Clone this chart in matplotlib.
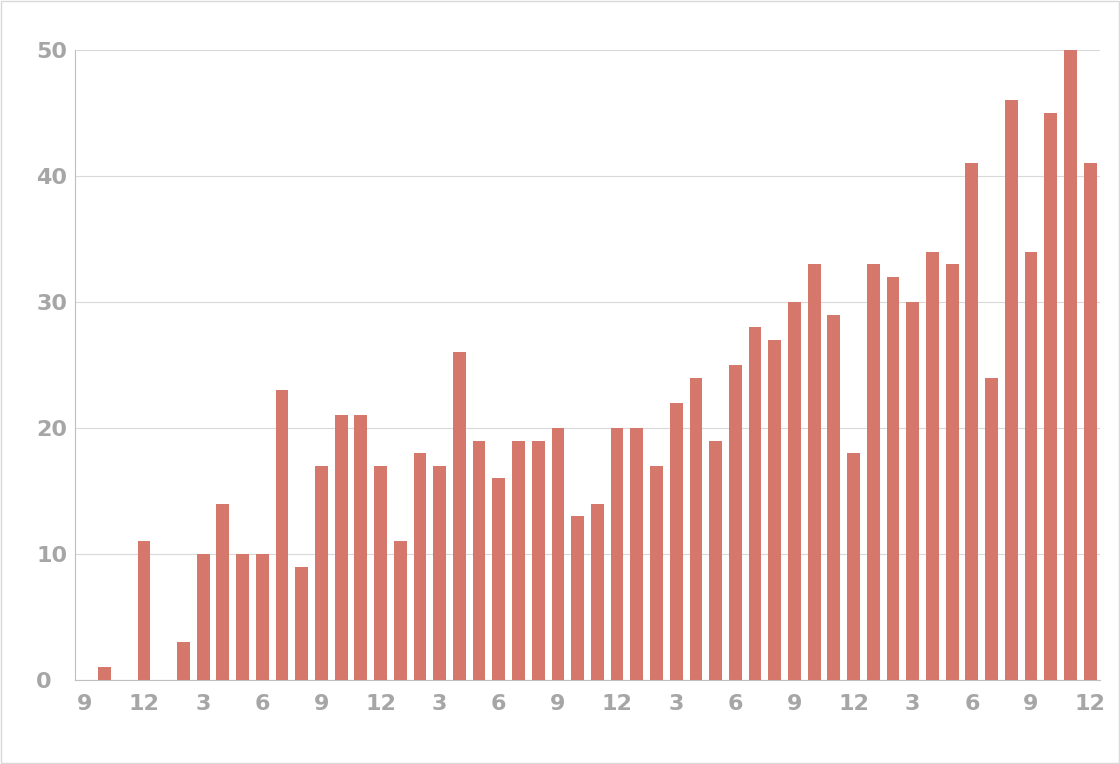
import matplotlib
matplotlib.use("Agg")
import matplotlib.pyplot as plt
import numpy as np

# monthly counts, Sept (start) through Dec, 52 months
values = [0, 1, 0, 11, 0, 3,
          10, 14, 10, 10, 23, 9, 17, 21, 21, 17, 11, 18, 17, 26, 19, 16, 19, 19, 20, 13,
          14, 20, 20, 17, 22, 24, 19, 25, 28, 27, 30, 33, 29, 18, 33, 32, 30, 34, 33, 41,
          24, 46, 34, 45, 50, 41]
start_month = 9
tick_labels = [str(((start_month - 1 + i) % 12) + 1) for i in range(len(values))]

fig = plt.figure(figsize=(11.2, 7.64), dpi=100)
ax = fig.add_axes([75 / 1120, 84 / 764, 1025 / 1120, 630 / 764])
x = np.arange(len(values))
ax.bar(x, values, width=0.65, color="#D6776C", zorder=3)

ax.set_xlim(-0.5, len(values) - 0.5)
ax.set_ylim(0, 50)
ax.set_yticks(range(0, 51, 10))
ax.set_xticks(x[::3])
ax.set_xticklabels(tick_labels[::3])
ax.grid(True, axis="y", color="#D9D9D9", linewidth=0.8, zorder=0)
for s in ["top", "right"]:
    ax.spines[s].set_visible(False)
ax.spines["left"].set_color("#BFBFBF")
ax.spines["bottom"].set_color("#BFBFBF")
ax.tick_params(colors="#A6A6A6", labelsize=16, length=0, pad=10)
for lbl in ax.get_xticklabels() + ax.get_yticklabels():
    lbl.set_fontweight("bold")
    lbl.set_color("#A6A6A6")
ax.tick_params(axis="y", pad=28)
for lbl in ax.get_yticklabels():
    lbl.set_horizontalalignment("left")

fig.patches.append(plt.Rectangle((0.001, 0.001), 0.998, 0.998, transform=fig.transFigure,
                                 fill=False, edgecolor="#D9D9D9", linewidth=1))
fig.savefig("out.png", dpi=100)
